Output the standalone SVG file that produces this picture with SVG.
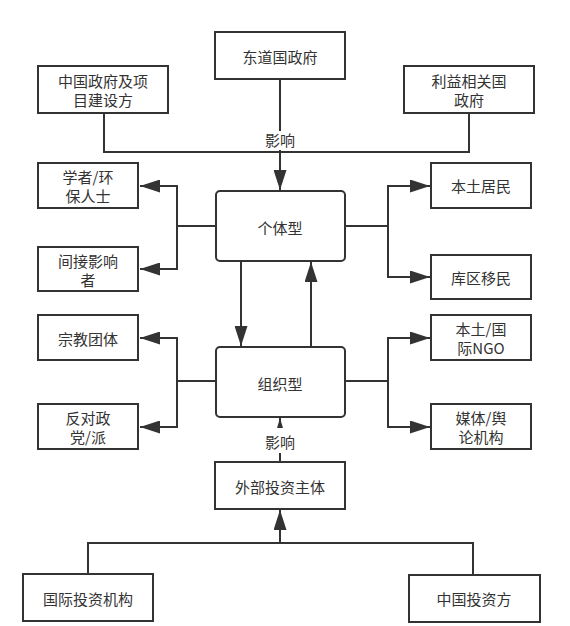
<svg xmlns="http://www.w3.org/2000/svg" width="570" height="626" viewBox="0 0 570 626">
<style>
.box{fill:#fff;stroke:#333;stroke-width:2}
.t{font-family:"Noto Sans CJK SC","Liberation Sans",sans-serif;font-size:15px;fill:#333;text-anchor:middle;dominant-baseline:central}
.c{fill:none;stroke:#333;stroke-width:2}
</style>
<defs>
<marker id="ah" markerUnits="userSpaceOnUse" markerWidth="20" markerHeight="13" refX="20" refY="6.5" orient="auto">
<path d="M0,0 L20,6.5 L0,13 z" fill="#333"/>
</marker>
<marker id="ahs" markerUnits="userSpaceOnUse" markerWidth="10" markerHeight="6" refX="10" refY="3" orient="auto">
<path d="M0,0 L10,3 L0,6 z" fill="#333"/>
</marker>
</defs>
<rect width="570" height="626" fill="#fff"/>
<g id="connectors">
<path class="c" d="M280,79 V131"/>
<path class="c" d="M104,113 V152 H469 V113"/>
<path class="c" d="M280,150 V190" marker-end="url(#ah)"/>
<path class="c" d="M216,226 H177"/>
<path class="c" d="M177,226 V186 H140" marker-end="url(#ah)"/>
<path class="c" d="M177,226 V269 H140" marker-end="url(#ah)"/>
<path class="c" d="M345,226 H388"/>
<path class="c" d="M388,226 V186 H430" marker-end="url(#ah)"/>
<path class="c" d="M388,226 V277 H430" marker-end="url(#ah)"/>
<path class="c" d="M241,261 V346" marker-end="url(#ah)"/>
<path class="c" d="M311,347 V262" marker-end="url(#ah)"/>
<path class="c" d="M216,381 H177"/>
<path class="c" d="M177,381 V338 H140" marker-end="url(#ah)"/>
<path class="c" d="M177,381 V427 H140" marker-end="url(#ah)"/>
<path class="c" d="M345,381 H388"/>
<path class="c" d="M388,381 V338 H430" marker-end="url(#ah)"/>
<path class="c" d="M388,381 V427 H430" marker-end="url(#ah)"/>
<path class="c" d="M280,428 V418" stroke-width="0" marker-end="url(#ahs)"/>
<path class="c" d="M280,453 V462"/>
<path class="c" d="M88,574 V543 H473 V575"/>
<path class="c" d="M280,543 V510" marker-end="url(#ah)"/>
<text class="t" x="280" y="139">影响</text>
<text class="t" x="280" y="441">影响</text>
</g>
<g id="n-host"><rect class="box" x="215" y="32" width="130" height="47"/><text class="t" x="280" y="56">东道国政府</text></g>
<g id="n-cn-gov"><rect class="box" x="38" y="66" width="130" height="47"/><text class="t" x="103" y="80">中国政府及项</text><text class="t" x="103" y="99">目建设方</text></g>
<g id="n-stake"><rect class="box" x="404" y="66" width="130" height="47"/><text class="t" x="469" y="80">利益相关国</text><text class="t" x="469" y="99">政府</text></g>
<g id="n-scholar"><rect class="box" x="38" y="163" width="100" height="45"/><text class="t" x="88" y="176">学者/环</text><text class="t" x="88" y="195">保人士</text></g>
<g id="n-indirect"><rect class="box" x="38" y="247" width="100" height="44"/><text class="t" x="88" y="260">间接影响</text><text class="t" x="88" y="279">者</text></g>
<g id="n-local"><rect class="box" x="431" y="163" width="100" height="45"/><text class="t" x="481" y="185">本土居民</text></g>
<g id="n-migrant"><rect class="box" x="431" y="255" width="100" height="44"/><text class="t" x="481" y="277">库区移民</text></g>
<g id="n-individual"><rect class="box" x="216" y="191" width="129" height="70" rx="4"/><text class="t" x="280" y="227">个体型</text></g>
<g id="n-org"><rect class="box" x="216" y="347" width="129" height="70" rx="4"/><text class="t" x="280" y="383">组织型</text></g>
<g id="n-religion"><rect class="box" x="38" y="315" width="100" height="45"/><text class="t" x="88" y="338">宗教团体</text></g>
<g id="n-opposition"><rect class="box" x="38" y="404" width="100" height="45"/><text class="t" x="88" y="417">反对政</text><text class="t" x="88" y="436">党/派</text></g>
<g id="n-ngo"><rect class="box" x="431" y="315" width="100" height="45"/><text class="t" x="481" y="328">本土/国</text><text class="t" x="481" y="347">际NGO</text></g>
<g id="n-media"><rect class="box" x="431" y="404" width="100" height="45"/><text class="t" x="481" y="417">媒体/舆</text><text class="t" x="481" y="436">论机构</text></g>
<g id="n-investor"><rect class="box" x="215" y="462" width="130" height="47"/><text class="t" x="280" y="486">外部投资主体</text></g>
<g id="n-intl"><rect class="box" x="23" y="574" width="130" height="47"/><text class="t" x="88" y="598">国际投资机构</text></g>
<g id="n-cn-inv"><rect class="box" x="409" y="575" width="131" height="47"/><text class="t" x="474" y="598">中国投资方</text></g>
</svg>
